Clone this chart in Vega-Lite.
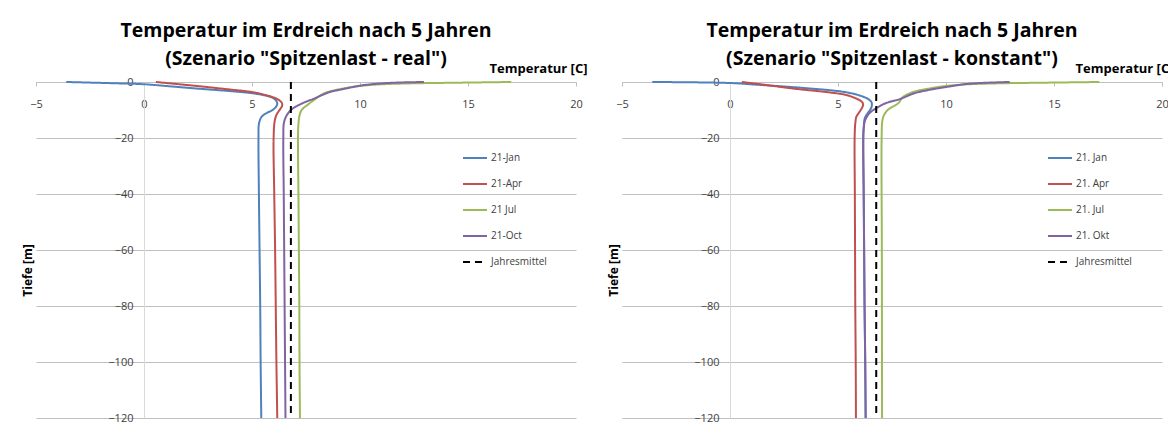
{
  "$schema": "https://vega.github.io/schema/vega-lite/v6.json",
  "autosize": {"type": "pad"},
  "padding": {"left": 21, "top": 20, "right": 0, "bottom": 0},
  "background": "white",
  "spacing": 46,
  "bounds": "flush",
  "config": {
    "font": "Open Sans",
    "view": {"stroke": null},
    "axisX": {"labelFlush": false},
    "axisY": {"labelFlush": false}
  },
  "datasets": {
    "real": [
      {"s": "21-Jan", "d": 0, "t": -3.6}, {"s": "21-Jan", "d": -0.4, "t": -1.6}, {"s": "21-Jan", "d": -0.8, "t": 0}, {"s": "21-Jan", "d": -1.6, "t": 1.3}, {"s": "21-Jan", "d": -2.4, "t": 2.55}, {"s": "21-Jan", "d": -3.2, "t": 3.9}, {"s": "21-Jan", "d": -4.0, "t": 5.0}, {"s": "21-Jan", "d": -4.8, "t": 5.6}, {"s": "21-Jan", "d": -5.6, "t": 5.95}, {"s": "21-Jan", "d": -6.5, "t": 6.1}, {"s": "21-Jan", "d": -7.6, "t": 6.17}, {"s": "21-Jan", "d": -8.8, "t": 6.12}, {"s": "21-Jan", "d": -10, "t": 5.95}, {"s": "21-Jan", "d": -11, "t": 5.7}, {"s": "21-Jan", "d": -12, "t": 5.5}, {"s": "21-Jan", "d": -13, "t": 5.4}, {"s": "21-Jan", "d": -15, "t": 5.32}, {"s": "21-Jan", "d": -20, "t": 5.3}, {"s": "21-Jan", "d": -40, "t": 5.32}, {"s": "21-Jan", "d": -60, "t": 5.35}, {"s": "21-Jan", "d": -80, "t": 5.38}, {"s": "21-Jan", "d": -100, "t": 5.4}, {"s": "21-Jan", "d": -120, "t": 5.43},
      {"s": "21-Apr", "d": 0, "t": 0.55}, {"s": "21-Apr", "d": -0.75, "t": 1.55}, {"s": "21-Apr", "d": -1.5, "t": 2.55}, {"s": "21-Apr", "d": -2.5, "t": 3.75}, {"s": "21-Apr", "d": -3.6, "t": 5.0}, {"s": "21-Apr", "d": -4.6, "t": 5.6}, {"s": "21-Apr", "d": -6, "t": 6.15}, {"s": "21-Apr", "d": -7.2, "t": 6.36}, {"s": "21-Apr", "d": -8.4, "t": 6.4}, {"s": "21-Apr", "d": -9.4, "t": 6.33}, {"s": "21-Apr", "d": -10.6, "t": 6.22}, {"s": "21-Apr", "d": -11.8, "t": 6.13}, {"s": "21-Apr", "d": -14, "t": 6.05}, {"s": "21-Apr", "d": -20, "t": 6.0}, {"s": "21-Apr", "d": -40, "t": 6.03}, {"s": "21-Apr", "d": -60, "t": 6.07}, {"s": "21-Apr", "d": -80, "t": 6.1}, {"s": "21-Apr", "d": -100, "t": 6.13}, {"s": "21-Apr", "d": -120, "t": 6.17},
      {"s": "21 Jul", "d": 0, "t": 17.0}, {"s": "21 Jul", "d": -0.25, "t": 14.5}, {"s": "21 Jul", "d": -0.5, "t": 12.3}, {"s": "21 Jul", "d": -0.9, "t": 10.8}, {"s": "21 Jul", "d": -1.5, "t": 9.9}, {"s": "21 Jul", "d": -2.5, "t": 9.1}, {"s": "21 Jul", "d": -4, "t": 8.35}, {"s": "21 Jul", "d": -6, "t": 7.95}, {"s": "21 Jul", "d": -8, "t": 7.6}, {"s": "21 Jul", "d": -10, "t": 7.3}, {"s": "21 Jul", "d": -12, "t": 7.2}, {"s": "21 Jul", "d": -15, "t": 7.15}, {"s": "21 Jul", "d": -20, "t": 7.13}, {"s": "21 Jul", "d": -40, "t": 7.15}, {"s": "21 Jul", "d": -60, "t": 7.17}, {"s": "21 Jul", "d": -80, "t": 7.19}, {"s": "21 Jul", "d": -100, "t": 7.2}, {"s": "21 Jul", "d": -120, "t": 7.22},
      {"s": "21-Oct", "d": 0, "t": 12.96}, {"s": "21-Oct", "d": -0.35, "t": 11.3}, {"s": "21-Oct", "d": -1.2, "t": 10.1}, {"s": "21-Oct", "d": -2.4, "t": 9.3}, {"s": "21-Oct", "d": -3.6, "t": 8.6}, {"s": "21-Oct", "d": -4.8, "t": 8.2}, {"s": "21-Oct", "d": -6, "t": 7.85}, {"s": "21-Oct", "d": -7.2, "t": 7.45}, {"s": "21-Oct", "d": -8.5, "t": 7.1}, {"s": "21-Oct", "d": -10, "t": 6.8}, {"s": "21-Oct", "d": -12, "t": 6.6}, {"s": "21-Oct", "d": -14.5, "t": 6.48}, {"s": "21-Oct", "d": -20, "t": 6.45}, {"s": "21-Oct", "d": -40, "t": 6.47}, {"s": "21-Oct", "d": -60, "t": 6.49}, {"s": "21-Oct", "d": -80, "t": 6.51}, {"s": "21-Oct", "d": -100, "t": 6.53}, {"s": "21-Oct", "d": -120, "t": 6.55},
      {"s": "Jahresmittel", "d": 0, "t": 6.8}, {"s": "Jahresmittel", "d": -120, "t": 6.8}
    ],
    "konstant": [
      {"s": "21. Jan", "d": 0, "t": -3.6}, {"s": "21. Jan", "d": -0.36, "t": 0}, {"s": "21. Jan", "d": -1.0, "t": 1.3}, {"s": "21. Jan", "d": -2.0, "t": 3.2}, {"s": "21. Jan", "d": -3.3, "t": 5.05}, {"s": "21. Jan", "d": -4.0, "t": 5.6}, {"s": "21. Jan", "d": -5.2, "t": 6.15}, {"s": "21. Jan", "d": -6.2, "t": 6.42}, {"s": "21. Jan", "d": -7.2, "t": 6.55}, {"s": "21. Jan", "d": -8.2, "t": 6.57}, {"s": "21. Jan", "d": -9.2, "t": 6.54}, {"s": "21. Jan", "d": -10, "t": 6.48}, {"s": "21. Jan", "d": -11.2, "t": 6.37}, {"s": "21. Jan", "d": -12.4, "t": 6.27}, {"s": "21. Jan", "d": -13.6, "t": 6.22}, {"s": "21. Jan", "d": -16.5, "t": 6.19}, {"s": "21. Jan", "d": -20, "t": 6.17}, {"s": "21. Jan", "d": -40, "t": 6.19}, {"s": "21. Jan", "d": -60, "t": 6.21}, {"s": "21. Jan", "d": -80, "t": 6.23}, {"s": "21. Jan", "d": -100, "t": 6.26}, {"s": "21. Jan", "d": -120, "t": 6.28},
      {"s": "21. Apr", "d": 0, "t": 0.55}, {"s": "21. Apr", "d": -1.0, "t": 1.6}, {"s": "21. Apr", "d": -2.4, "t": 3.0}, {"s": "21. Apr", "d": -3.7, "t": 4.58}, {"s": "21. Apr", "d": -4.6, "t": 5.36}, {"s": "21. Apr", "d": -6.1, "t": 5.9}, {"s": "21. Apr", "d": -7.3, "t": 6.13}, {"s": "21. Apr", "d": -8.2, "t": 6.16}, {"s": "21. Apr", "d": -9.1, "t": 6.12}, {"s": "21. Apr", "d": -10, "t": 6.05}, {"s": "21. Apr", "d": -11.2, "t": 5.95}, {"s": "21. Apr", "d": -12.4, "t": 5.85}, {"s": "21. Apr", "d": -14.8, "t": 5.8}, {"s": "21. Apr", "d": -20, "t": 5.77}, {"s": "21. Apr", "d": -40, "t": 5.78}, {"s": "21. Apr", "d": -60, "t": 5.79}, {"s": "21. Apr", "d": -80, "t": 5.8}, {"s": "21. Apr", "d": -100, "t": 5.82}, {"s": "21. Apr", "d": -120, "t": 5.83},
      {"s": "21. Jul", "d": 0, "t": 17.1}, {"s": "21. Jul", "d": -0.25, "t": 14.5}, {"s": "21. Jul", "d": -0.5, "t": 12.3}, {"s": "21. Jul", "d": -0.9, "t": 10.8}, {"s": "21. Jul", "d": -1.5, "t": 9.9}, {"s": "21. Jul", "d": -2.5, "t": 9.1}, {"s": "21. Jul", "d": -3.5, "t": 8.5}, {"s": "21. Jul", "d": -5.4, "t": 8.0}, {"s": "21. Jul", "d": -7.5, "t": 7.8}, {"s": "21. Jul", "d": -10, "t": 7.3}, {"s": "21. Jul", "d": -12, "t": 7.12}, {"s": "21. Jul", "d": -14, "t": 7.05}, {"s": "21. Jul", "d": -20, "t": 7.02}, {"s": "21. Jul", "d": -60, "t": 7.03}, {"s": "21. Jul", "d": -120, "t": 7.04},
      {"s": "21. Okt", "d": 0, "t": 12.95}, {"s": "21. Okt", "d": -0.6, "t": 11.1}, {"s": "21. Okt", "d": -1.8, "t": 10.0}, {"s": "21. Okt", "d": -3.0, "t": 9.1}, {"s": "21. Okt", "d": -4.1, "t": 8.5}, {"s": "21. Okt", "d": -6, "t": 7.9}, {"s": "21. Okt", "d": -7.6, "t": 7.2}, {"s": "21. Okt", "d": -9.4, "t": 6.76}, {"s": "21. Okt", "d": -11.2, "t": 6.45}, {"s": "21. Okt", "d": -13.6, "t": 6.26}, {"s": "21. Okt", "d": -16.5, "t": 6.19}, {"s": "21. Okt", "d": -20, "t": 6.17}, {"s": "21. Okt", "d": -40, "t": 6.19}, {"s": "21. Okt", "d": -60, "t": 6.21}, {"s": "21. Okt", "d": -80, "t": 6.23}, {"s": "21. Okt", "d": -100, "t": 6.26}, {"s": "21. Okt", "d": -120, "t": 6.28},
      {"s": "Jahresmittel", "d": 0, "t": 6.77}, {"s": "Jahresmittel", "d": -120, "t": 6.77}
    ]
  },
  "hconcat": [
    {
      "width": 540,
      "height": 336,
      "title": {"text": ["Temperatur im Erdreich nach 5 Jahren", "(Szenario \"Spitzenlast - real\")"], "font": "Open Sans", "fontSize": 19.5, "fontWeight": "bold", "color": "#000000", "anchor": "middle", "frame": "group", "offset": -7, "lineHeight": 28},
      "data": {"name": "real"},
      "mark": {"type": "line", "interpolate": "catmull-rom", "strokeCap": "butt"},
      "encoding": {
        "x": {"field": "t", "type": "quantitative", "scale": {"domain": [-5, 20], "nice": false, "zero": false},
          "axis": {"orient": "bottom", "offset": -336, "values": [-5, 0, 5, 10, 15, 20], "grid": false, "labelFlush": false, "domainColor": "#bfbfbf", "tickColor": "#bfbfbf", "tickSize": 4, "labelPadding": 12, "labelFont": "Open Sans", "labelFontSize": 11, "labelColor": "#404040", "title": "Temperatur [C]", "titleFont": "Open Sans", "titleFontSize": 13, "titleFontWeight": "bold", "titleColor": "#000000", "titleX": 551, "titleY": -14, "titleAlign": "right", "titleBaseline": "middle"}},
        "y": {"field": "d", "type": "quantitative", "scale": {"domain": [-120, 0], "nice": false},
          "axis": {"orient": "left", "offset": -108, "values": [0, -20, -40, -60, -80, -100, -120], "grid": true, "gridColor": "#bfbfbf", "domainColor": "#d9d9d9", "tickSize": 0, "labelPadding": 11, "labelFont": "Open Sans", "labelFontSize": 11, "labelColor": "#404040", "title": "Tiefe [m]", "titleFont": "Open Sans", "titleFontSize": 12, "titleFontWeight": "bold", "titleColor": "#000000", "titleX": -117, "titleY": 188, "titleAngle": -90, "titleAlign": "center", "titleBaseline": "middle"}},
        "color": {"field": "s", "type": "nominal", "scale": {"domain": ["21-Jan", "21-Apr", "21 Jul", "21-Oct", "Jahresmittel"], "range": ["#4f81bd", "#c0504d", "#9bbb59", "#8064a2", "#000000"]},
          "legend": {"orient": "none", "legendX": 426, "legendY": 63, "title": null, "symbolType": "stroke", "symbolSize": 576, "symbolStrokeWidth": 2, "labelFont": "Open Sans", "labelFontSize": 10, "labelColor": "#404040", "rowPadding": 8, "labelOffset": 3, "padding": 0}},
        "strokeDash": {"field": "s", "type": "nominal", "scale": {"domain": ["21-Jan", "21-Apr", "21 Jul", "21-Oct", "Jahresmittel"], "range": [[1, 0], [1, 0], [1, 0], [1, 0], [7, 5]]},
          "legend": {"orient": "none", "legendX": 426, "legendY": 63, "title": null, "symbolType": "stroke", "symbolSize": 576, "symbolStrokeWidth": 2, "labelFont": "Open Sans", "labelFontSize": 10, "labelColor": "#404040", "rowPadding": 8, "labelOffset": 3, "padding": 0}},
        "strokeWidth": {"field": "s", "type": "nominal", "scale": {"domain": ["21-Jan", "21-Apr", "21 Jul", "21-Oct", "Jahresmittel"], "range": [2, 2, 2, 2, 2.5]}, "legend": null},
        "order": {"field": "d", "sort": "descending"}
      }
    },
    {
      "width": 540,
      "height": 336,
      "title": {"text": ["Temperatur im Erdreich nach 5 Jahren", "(Szenario \"Spitzenlast - konstant\")"], "font": "Open Sans", "fontSize": 19.5, "fontWeight": "bold", "color": "#000000", "anchor": "middle", "frame": "group", "offset": -7, "lineHeight": 28},
      "data": {"name": "konstant"},
      "mark": {"type": "line", "interpolate": "catmull-rom", "strokeCap": "butt"},
      "encoding": {
        "x": {"field": "t", "type": "quantitative", "scale": {"domain": [-5, 20], "nice": false, "zero": false},
          "axis": {"orient": "bottom", "offset": -336, "values": [-5, 0, 5, 10, 15, 20], "grid": false, "labelFlush": false, "domainColor": "#bfbfbf", "tickColor": "#bfbfbf", "tickSize": 4, "labelPadding": 12, "labelFont": "Open Sans", "labelFontSize": 11, "labelColor": "#404040", "title": "Temperatur [C]", "titleFont": "Open Sans", "titleFontSize": 13, "titleFontWeight": "bold", "titleColor": "#000000", "titleX": 551, "titleY": -14, "titleAlign": "right", "titleBaseline": "middle"}},
        "y": {"field": "d", "type": "quantitative", "scale": {"domain": [-120, 0], "nice": false},
          "axis": {"orient": "left", "offset": -108, "values": [0, -20, -40, -60, -80, -100, -120], "grid": true, "gridColor": "#bfbfbf", "domainColor": "#d9d9d9", "tickSize": 0, "labelPadding": 11, "labelFont": "Open Sans", "labelFontSize": 11, "labelColor": "#404040", "title": "Tiefe [m]", "titleFont": "Open Sans", "titleFontSize": 12, "titleFontWeight": "bold", "titleColor": "#000000", "titleX": -117, "titleY": 188, "titleAngle": -90, "titleAlign": "center", "titleBaseline": "middle"}},
        "color": {"field": "s", "type": "nominal", "scale": {"domain": ["21. Jan", "21. Apr", "21. Jul", "21. Okt", "Jahresmittel"], "range": ["#4f81bd", "#c0504d", "#9bbb59", "#8064a2", "#000000"]},
          "legend": {"orient": "none", "legendX": 425, "legendY": 63, "title": null, "symbolType": "stroke", "symbolSize": 576, "symbolStrokeWidth": 2, "labelFont": "Open Sans", "labelFontSize": 10, "labelColor": "#404040", "rowPadding": 8, "labelOffset": 3, "padding": 0}},
        "strokeDash": {"field": "s", "type": "nominal", "scale": {"domain": ["21. Jan", "21. Apr", "21. Jul", "21. Okt", "Jahresmittel"], "range": [[1, 0], [1, 0], [1, 0], [1, 0], [7, 5]]},
          "legend": {"orient": "none", "legendX": 425, "legendY": 63, "title": null, "symbolType": "stroke", "symbolSize": 576, "symbolStrokeWidth": 2, "labelFont": "Open Sans", "labelFontSize": 10, "labelColor": "#404040", "rowPadding": 8, "labelOffset": 3, "padding": 0}},
        "strokeWidth": {"field": "s", "type": "nominal", "scale": {"domain": ["21. Jan", "21. Apr", "21. Jul", "21. Okt", "Jahresmittel"], "range": [2, 2, 2, 2, 2.5]}, "legend": null},
        "order": {"field": "d", "sort": "descending"}
      }
    }
  ],
  "resolve": {"scale": {"color": "independent", "strokeDash": "independent", "strokeWidth": "independent"}, "legend": {"color": "independent", "strokeDash": "independent"}}
}
